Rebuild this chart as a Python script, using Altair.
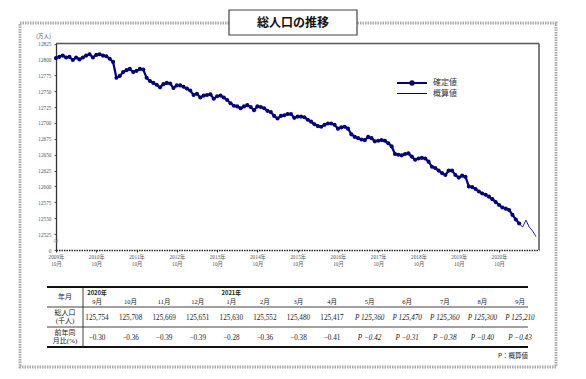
import altair as alt
import pandas as pd

# ---------------- data ----------------
# 総人口（万人）, monthly, 2009年10月 .. 2020年8月
confirmed_wan = [
    12802, 12804, 12806, 12803, 12804, 12799, 12803, 12800, 12803, 12806, 12808, 12803,
    12807, 12808, 12806, 12805, 12801, 12796, 12771, 12774, 12780, 12783, 12785, 12780,
    12782, 12785, 12784, 12771, 12766, 12763, 12760, 12756, 12761, 12763, 12762, 12755,
    12759, 12759, 12757, 12754, 12751, 12744, 12746, 12740, 12743, 12744, 12745, 12738,
    12742, 12743, 12740, 12736, 12731, 12727, 12726, 12723, 12726, 12728, 12725, 12720,
    12726, 12725, 12723, 12719, 12717, 12711, 12707, 12711, 12712, 12714, 12714, 12708,
    12710, 12710, 12709, 12705, 12702, 12698, 12695, 12694, 12697, 12699, 12699, 12697,
    12691, 12693, 12694, 12691, 12682, 12678, 12676, 12674, 12673, 12678, 12676, 12671,
    12672, 12673, 12672, 12668, 12663, 12651, 12650, 12649, 12651, 12652, 12647, 12642,
    12644, 12645, 12644, 12639, 12631, 12629, 12625, 12621, 12618, 12625, 12625, 12618,
    12614, 12617, 12615, 12600, 12599, 12596, 12592, 12589, 12587, 12584, 12580,
]
start_year = 2009

# table (2020年9月 .. 2021年9月)
table_months = ["9月", "10月", "11月", "12月", "1月", "2月", "3月", "4月",
                "5月", "6月", "7月", "8月", "9月"]
table_year_labels = ["2020年", "2021年"]
table_year_cols = [0, 4]
table_pop = [125754, 125708, 125669, 125651, 125630, 125552, 125480, 125417,
             125360, 125470, 125360, 125300, 125210]          # 千人
table_pct = [-0.30, -0.36, -0.39, -0.39, -0.28, -0.36, -0.38, -0.41,
             -0.42, -0.31, -0.38, -0.40, -0.43]
table_prov = [False] * 8 + [True] * 5
row_headers = ["年月", "総人口\n(千人)", "前年同\n月比(%)"]
legend_labels = ["確定値", "概算値"]
x_tick_years = list(range(2009, 2021))
y_ticks = [12500, 12525, 12550, 12575, 12600, 12625, 12650, 12675,
           12700, 12725, 12750, 12775, 12800, 12825]

# ---------------- frames built from the arrays ----------------
conf_vals = confirmed_wan + [p / 10 for p, pr in zip(table_pop, table_prov) if not pr]
conf_df = pd.DataFrame({"m": list(range(len(conf_vals))), "v": conf_vals})
last_conf = len(conf_vals) - 1
prov_vals = [conf_vals[-1]] + [p / 10 for p, pr in zip(table_pop, table_prov) if pr]
prov_df = pd.DataFrame({"m": list(range(last_conf, last_conf + len(prov_vals))), "v": prov_vals})

pop_s = [f"{p:,}" for p in table_pop]
pct_s = [f"{v:.2f}".replace("-", "\u2212") for v in table_pct]
tdf = pd.DataFrame({
    "col": list(range(len(table_months))),
    "month": table_months,
    "pop": [("P " + s) if pr else s for s, pr in zip(pop_s, table_prov)],
    "pct": [("P " + s) if pr else s for s, pr in zip(pct_s, table_prov)],
    "prov": table_prov,
})
ydf = pd.DataFrame({"col": table_year_cols, "label": table_year_labels})
hdf = pd.DataFrame({"r": list(range(len(row_headers))), "label": row_headers})
ldf = pd.DataFrame({"k": list(range(len(legend_labels))), "label": legend_labels})
one = pd.DataFrame({"d": [0]})

SERIF = "Liberation Serif, Noto Sans CJK JP"
SANS = "Noto Sans CJK JP"
NAVY = "#000080"
W, H = 570, 363


def c(v):
    # page pixel -> chart pixel (page has 8px margin)
    return v - 8


# ---------------- decorations ----------------
outer = alt.Chart(one).mark_rect(filled=False, color="#aaaaaa", strokeWidth=3,
                                 strokeDash=[1.5, 1]).encode(
    x=alt.value(c(20)), x2=alt.value(c(556)), y=alt.value(c(23)), y2=alt.value(c(367)))

title_box = alt.Chart(one).mark_rect(fill="white", stroke="#444444", strokeWidth=1.2).encode(
    x=alt.value(c(229)), x2=alt.value(c(357)), y=alt.value(c(10)), y2=alt.value(c(35)))
title_txt = alt.Chart(one).mark_text(text="総人口の推移", font=SANS, fontWeight="bold",
                                     fontSize=12, color="#111111", baseline="middle",
                                     align="center").encode(
    x=alt.value(c(293)), y=alt.value(c(22.5)))

frame_top = alt.Chart(one).mark_rule(color="#555555", strokeWidth=1.5).encode(
    x=alt.value(48), x2=alt.value(531), y=alt.value(35.5))
frame_right = alt.Chart(one).mark_rule(color="#555555", strokeWidth=1.5).encode(
    x=alt.value(531), y=alt.value(35.5), y2=alt.value(242))
brk = alt.Chart(one).mark_text(text="≈", fontSize=9, color="#888888", font=SERIF,
                               baseline="middle", align="center").encode(
    x=alt.value(48), y=alt.value(c(241)))

# ---------------- line chart ----------------
xscale = alt.Scale(domain=[0, 143.9], range=[48, 531], nice=False, zero=False)
yscale = alt.Scale(domain=[y_ticks[0], y_ticks[-1]], range=[242, 35.5], nice=False, zero=False)
xaxis = alt.Axis(orient="bottom", offset=-(H - 242), title=None, grid=False,
                 values=[(y - start_year) * 12 for y in x_tick_years],
                 labelExpr="[(%d + datum.value / 12) + '年', '10月']" % start_year,
                 labelFont=SERIF, labelFontSize=5.3, labelColor="#555555", labelLineHeight=7.5,
                 labelPadding=2, tickSize=2, tickColor="#333333", domainColor="#222222",
                 domainWidth=1.6, domainDash=[1.5, 1], labelFlush=False, labelOverlap=False)
yaxis = alt.Axis(orient="left", offset=-48, title="(万人)", titleAngle=0, titleX=-13,
                 titleY=c(35), titleAlign="center", titleBaseline="middle",
                 titleFont=SERIF, titleFontSize=5.5, titleFontWeight="normal",
                 titleColor="#555555", values=y_ticks, format="d",
                 labelExpr="datum.value == %d ? '0' : datum.label" % y_ticks[0],
                 labelFont=SERIF, labelFontSize=5.3, labelColor="#555555", labelPadding=3,
                 tickSize=2, tickColor="#555555", domainColor="#333333", domainWidth=1.3,
                 grid=False, labelFlush=False, labelOverlap=False)

conf_line = alt.Chart(conf_df).mark_line(
    color=NAVY, strokeWidth=2.2,
    point=alt.OverlayMarkDef(filled=True, size=17, color=NAVY, opacity=1)).encode(
    x=alt.X("m:Q", scale=xscale, axis=xaxis),
    y=alt.Y("v:Q", scale=yscale, axis=yaxis))
prov_line = alt.Chart(prov_df).mark_line(color="#202090", strokeWidth=1).encode(
    x=alt.X("m:Q", scale=xscale, axis=xaxis),
    y=alt.Y("v:Q", scale=yscale, axis=yaxis))
line_chart = alt.layer(conf_line, prov_line)

# ---------------- legend ----------------
lscale = alt.Scale(domain=[0, 1], range=[c(83), c(93.5)])
leg_sym = alt.Chart(ldf).mark_rule(color=NAVY).encode(
    x=alt.value(c(397)), x2=alt.value(c(427)),
    y=alt.Y("k:Q", scale=lscale, axis=None),
    strokeWidth=alt.StrokeWidth("k:Q", scale=alt.Scale(domain=[0, 1], range=[2, 1]), legend=None))
leg_dot = alt.Chart(ldf).transform_filter("datum.k == 0").mark_point(
    filled=True, size=28, color=NAVY, opacity=1).encode(
    x=alt.value(c(412)), y=alt.Y("k:Q", scale=lscale, axis=None))
leg_txt = alt.Chart(ldf).mark_text(font=SANS, fontSize=8, color="#333333", align="left",
                                   baseline="middle").encode(
    x=alt.value(c(433)), y=alt.Y("k:Q", scale=lscale, axis=None), text="label:N")

# ---------------- table ----------------
tx = alt.Scale(domain=[0, 7, 12], range=[c(97), c(332), c(520)])
TL, TR = c(47), c(528)
rules = []
for yy, sw in [(287, 2.2), (307, 0.8), (327, 0.8), (347, 2.2)]:
    rules.append(alt.Chart(one).mark_rule(color="#111111", strokeWidth=sw).encode(
        x=alt.value(TL), x2=alt.value(TR), y=alt.value(c(yy))))
rules.append(alt.Chart(one).mark_rule(color="#111111", strokeWidth=0.8).encode(
    x=alt.value(c(83)), y=alt.value(c(287)), y2=alt.value(c(347))))

hscale = alt.Scale(domain=[0, 1, 2], range=[c(297), c(312.8), c(332.8)])
head_txt = alt.Chart(hdf).mark_text(font=SERIF, fontSize=7, color="#222222", lineBreak="\n",
                                    lineHeight=8.5, align="center", baseline="middle").encode(
    x=alt.value(c(65)), y=alt.Y("r:Q", scale=hscale, axis=None), text="label:N")

year_txt = alt.Chart(ydf).mark_text(font=SANS, fontWeight="bold", fontSize=5.8, color="#222222",
                                    align="center", baseline="middle").encode(
    x=alt.X("col:Q", scale=tx, axis=None), y=alt.value(c(292.5)), text="label:N")
month_txt = alt.Chart(tdf).mark_text(font=SERIF, fontSize=6.5, color="#222222",
                                     align="center", baseline="middle").encode(
    x=alt.X("col:Q", scale=tx, axis=None), y=alt.value(c(301.5)), text="month:N")


def val_layer(field, yy, prov):
    return alt.Chart(tdf).transform_filter(
        "datum.prov" if prov else "!datum.prov").mark_text(
        font=SERIF, fontSize=7.2, color="#222222", align="center", baseline="middle",
        fontStyle="italic" if prov else "normal").encode(
        x=alt.X("col:Q", scale=tx, axis=None), y=alt.value(c(yy)), text=f"{field}:N")


pop_c = val_layer("pop", 317.5, False)
pop_p = val_layer("pop", 317.5, True)
pct_c = val_layer("pct", 337.5, False)
pct_p = val_layer("pct", 337.5, True)
note = alt.Chart(one).mark_text(text="P：概算値", font=SANS, fontSize=6.5, color="#222222",
                                align="right", baseline="middle").encode(
    x=alt.value(c(528)), y=alt.value(c(356)))

chart = alt.layer(
    outer, title_box, title_txt, frame_top, frame_right, line_chart, brk,
    leg_sym, leg_dot, leg_txt,
    *rules, head_txt, year_txt, month_txt, pop_c, pop_p, pct_c, pct_p, note,
).resolve_scale(x="independent", y="independent").properties(
    width=W, height=H, padding=0, autosize=alt.AutoSizeParams(type="none"),
    background="white",
).configure_view(strokeWidth=0)

chart.save("out.html", embed_options={"renderer": "svg", "actions": False})
